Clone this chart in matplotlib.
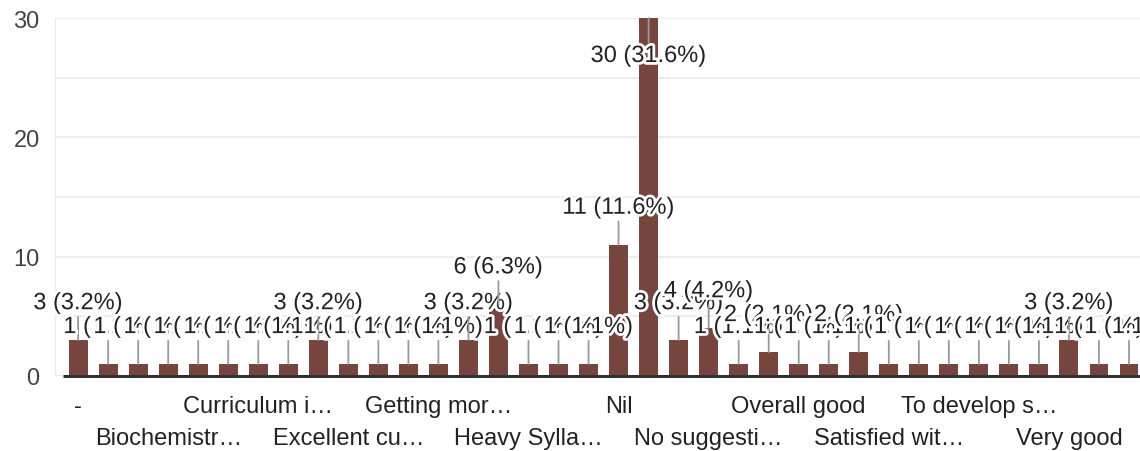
import matplotlib
matplotlib.use('Agg')
import matplotlib.pyplot as plt
import matplotlib.patheffects as pe

# answer counts, one bar per response (alphabetical order as in the form summary)
counts = [3, 1, 1, 1, 1, 1, 1, 1, 3, 1, 1, 1, 1, 3, 6, 1, 1, 1, 11, 30,
          3, 4, 1, 2, 1, 1, 2, 1, 1, 1, 1, 1, 1, 3, 1, 1]
# only every third category name is shown under the axis
tick_labels = ['-', 'Biochemistr…', 'Curriculum i…', 'Excellent cu…',
               'Getting mor…', 'Heavy Sylla…', 'Nil', 'No suggesti…',
               'Overall good', 'Satisfied wit…', 'To develop s…', 'Very good']
label_every = 3
y_ticks = [0, 10, 20, 30]

bar_color = '#76463e'
text_color = '#222222'
plt.rcParams['font.family'] = ['Liberation Sans', 'DejaVu Sans']

total = sum(counts)
x = list(range(len(counts)))

fig = plt.figure(figsize=(11.4, 4.52), dpi=100)
ax = fig.add_axes([55 / 1140, 75 / 452, 1085 / 1140, 358 / 452])

ax.bar(x, counts, width=0.63, color=bar_color, zorder=2)

ax.set_xlim(-0.77, len(counts) - 1 + 11 / 30)
ax.set_ylim(0, 30)
ax.set_yticks(y_ticks)
ax.set_yticks([5, 15, 25], minor=True)
ax.grid(axis='y', which='both', color='#ebebeb', lw=1.3, zorder=0)
ax.tick_params(axis='y', which='both', length=0, pad=11, labelsize=17,
               labelcolor='#444444')
ax.set_xticks([])
for s in ['top', 'right', 'bottom']:
    ax.spines[s].set_visible(False)
ax.spines['left'].set_color('#ebebeb')
ax.hlines(0, -0.5, len(counts) + 1, color='#333333', lw=2.2, zorder=3,
          clip_on=False)

# category names in two staggered rows
for k, name in enumerate(tick_labels):
    row = k % 2
    ax.text(k * label_every, -0.085 - row * 0.087, name,
            transform=ax.get_xaxis_transform(), ha='center', va='center',
            fontsize=17, color=text_color)

# value annotations with stems
halo = [pe.withStroke(linewidth=4, foreground='white')]
for i, v in enumerate(counts):
    txt = f"{v} ({v / total * 100:.1f}%)"
    off = 37 if v < 27 else -38
    ax.annotate(txt, xy=(i, v), xytext=(0, off), textcoords='offset pixels',
                ha='center', va='center', fontsize=17, color=text_color,
                path_effects=halo, annotation_clip=False, zorder=4,
                arrowprops=dict(arrowstyle='-', color='#999999', lw=1.3,
                                shrinkA=0, shrinkB=0))

fig.savefig('out.png', dpi=100)
